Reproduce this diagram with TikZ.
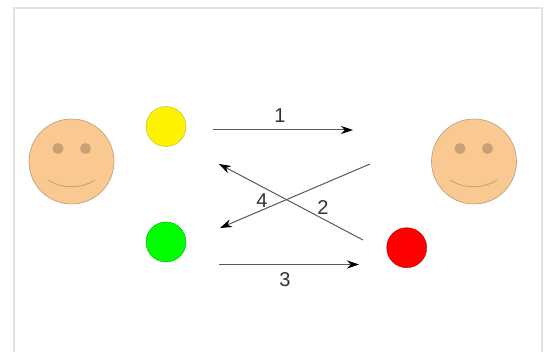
\documentclass[tikz,border=0pt]{standalone}
\usepackage{fontspec}
\setmainfont{Liberation Sans}
\usetikzlibrary{arrows.meta}
\definecolor{facefill}{RGB}{250,200,145}
\definecolor{faceline}{RGB}{185,155,125}
\definecolor{eyefill}{RGB}{200,160,115}
\definecolor{framecol}{RGB}{225,225,225}
\tikzset{
  x=1pt,y=-1pt,
  facebody/.style={circle,draw=faceline,line width=0.6pt,fill=facefill,minimum size=85pt,inner sep=0pt},
  eyeball/.style={circle,fill=eyefill,minimum size=11pt,inner sep=0pt},
  lamp/.style={circle,draw=#1!70!black,line width=0.4pt,fill=#1,minimum size=40pt,inner sep=0pt},
  msg/.style={draw=black!65,line width=1pt,-{Stealth[length=12pt,width=8pt,color=black]}},
  numlabel/.style={font=\fontsize{20}{20}\selectfont,text=black!80,inner sep=0pt},
  smileline/.style={draw=faceline,line width=0.7pt},
}
\begin{document}
\begin{tikzpicture}
\useasboundingbox (0,0) rectangle (547,352);
\fill[white] (0,0) rectangle (547,352);
\draw[framecol,line width=2pt] (14,360) -- (14,8) -- (542,8) -- (542,360);

\node[facebody] (faceL) at (71.5,161.5) {};
\node[eyeball] (eyeL1) at (58,148.5) {};
\node[eyeball] (eyeL2) at (85.5,148.5) {};
\coordinate (smileLa) at (48,180);
\coordinate (smileLb) at (95,180);
\draw[smileline] (smileLa) .. controls (62,189) and (81,189) .. (smileLb);

\node[facebody] (faceR) at (474,161.5) {};
\node[eyeball] (eyeR1) at (460,148.5) {};
\node[eyeball] (eyeR2) at (487.5,148.5) {};
\coordinate (smileRa) at (450,180);
\coordinate (smileRb) at (497,180);
\draw[smileline] (smileRa) .. controls (464,189) and (483,189) .. (smileRb);

\node[lamp=yellow] (yellow) at (166,126.5) {};
\node[lamp=green] (green) at (166,242) {};
\node[lamp=red] (red) at (406.7,247.7) {};

\coordinate (a1s) at (213,130);
\coordinate (a1e) at (353,130);
\coordinate (a2s) at (363,240);
\coordinate (a2e) at (219,164);
\coordinate (a3s) at (219,264.5);
\coordinate (a3e) at (359,264.5);
\coordinate (a4s) at (370,164);
\coordinate (a4e) at (220,228);
\draw[msg] (a1s) -- (a1e);
\draw[msg] (a2s) -- (a2e);
\draw[msg] (a3s) -- (a3e);
\draw[msg] (a4s) -- (a4e);

\node[numlabel] (n1) at (280,116) {1};
\node[numlabel] (n2) at (323,208) {2};
\node[numlabel] (n3) at (285,280) {3};
\node[numlabel] (n4) at (262,201) {4};
\end{tikzpicture}
\end{document}
